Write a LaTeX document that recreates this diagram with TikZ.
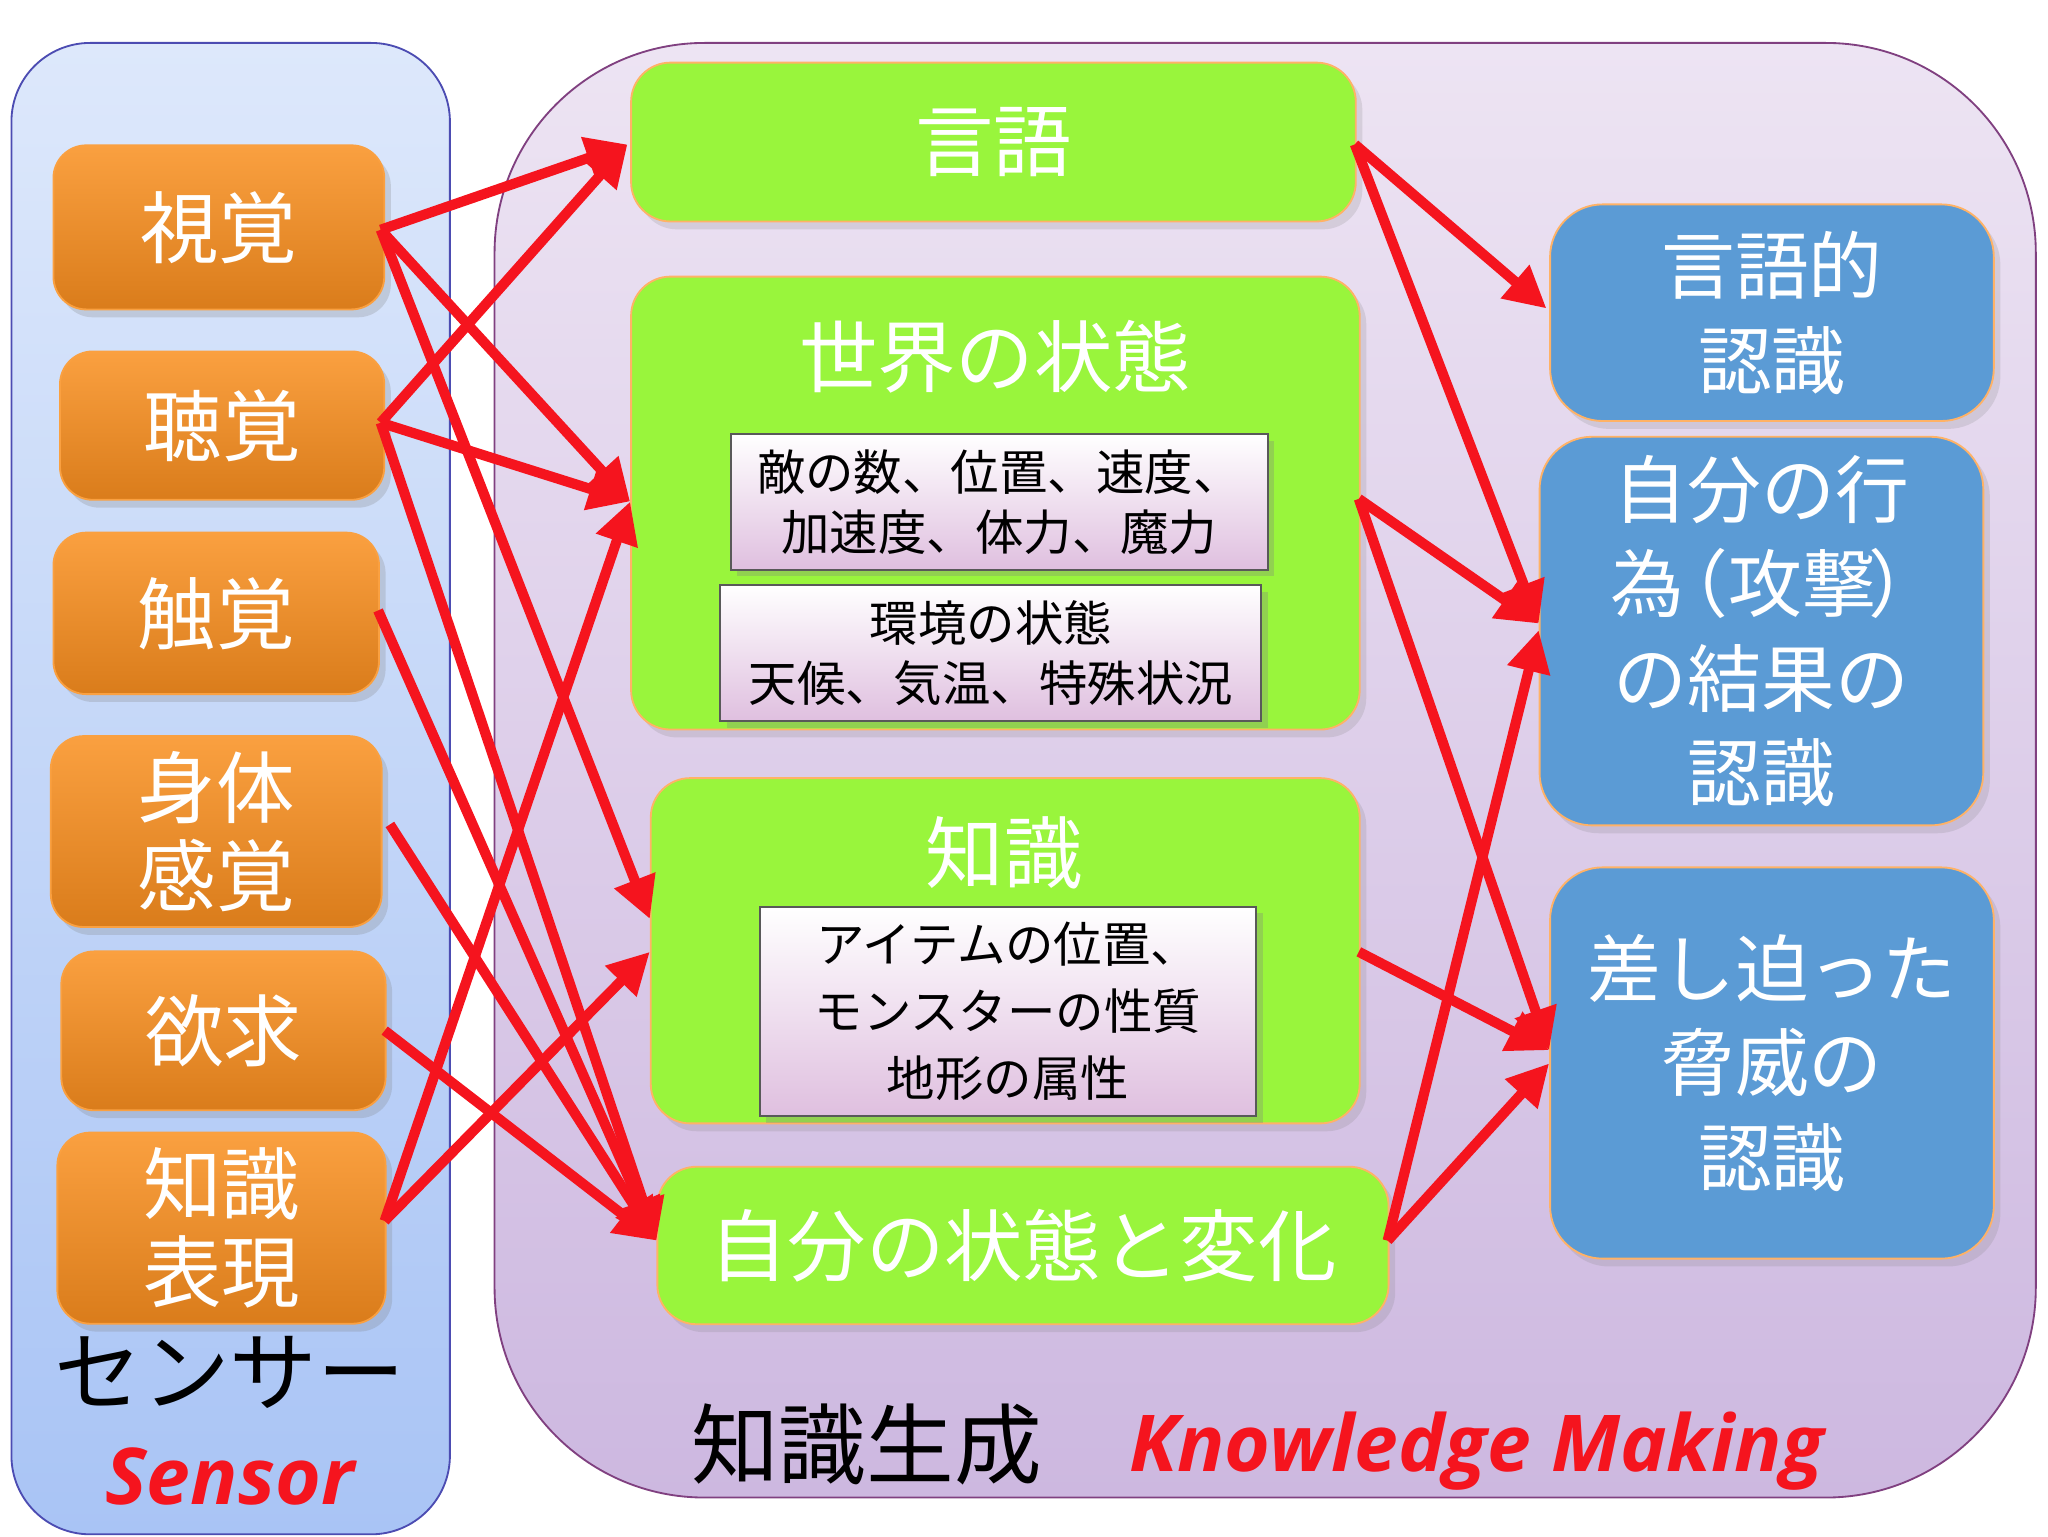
\documentclass[tikz,border=0pt]{standalone}
\usepackage{fontspec}
\setmainfont{Noto Sans CJK JP}
\newfontfamily\latinbold{Open Sans}
\usetikzlibrary{shadows,arrows.meta}
\definecolor{org}{HTML}{F28A1E}
\definecolor{orgt}{HTML}{FAA040}
\definecolor{grn}{HTML}{99F53C}
\definecolor{blu}{HTML}{5B9BD5}
\definecolor{arr}{HTML}{F5141E}
\definecolor{skyt}{HTML}{DDE8FB}
\definecolor{skyb}{HTML}{A9C4F5}
\definecolor{lavt}{HTML}{EDE4F3}
\definecolor{lavb}{HTML}{CDB8E0}
\tikzset{
 orbox/.style={draw=orgt,rounded corners=0.25cm,top color=orgt,bottom color=org!90!black,drop shadow={opacity=0.25,shadow xshift=0.05cm,shadow yshift=-0.06cm},text=white,font=\fontsize{17}{20}\selectfont,align=center,anchor=north west},
 gbox/.style={draw=orange!60,rounded corners=0.3cm,fill=grn,drop shadow={opacity=0.2,shadow xshift=0.05cm,shadow yshift=-0.06cm},anchor=north west},
 bbox/.style={draw=orange!60,rounded corners=0.4cm,fill=blu,drop shadow={opacity=0.2,shadow xshift=0.05cm,shadow yshift=-0.06cm},text=white,font=\fontsize{16}{20.5}\selectfont,align=center,anchor=north west},
 ibox/.style={draw=gray!70!black,top color=white,bottom color=violet!25,drop shadow={opacity=0.3,shadow xshift=0.05cm,shadow yshift=-0.05cm},font=\fontsize{10.5}{13}\selectfont,align=center,anchor=north west},
 ar/.style={draw=arr,line width=2.2pt,-{Triangle[length=9pt,width=9pt]}},
 gl/.style={text=white,font=\fontsize{17}{20}\selectfont}
}
\begin{document}
\begin{tikzpicture}[x=1cm,y=-1cm]
\useasboundingbox (0,0) rectangle (15.6,11.7);
% panels
\node[draw=blue!40!gray,rounded corners=0.6cm,top color=skyt,bottom color=skyb,minimum width=3.34cm,minimum height=11.36cm,anchor=north west] (sp) at (0.08,0.32) {};
\node[draw=violet!50!gray,rounded corners=1.6cm,top color=lavt,bottom color=lavb,minimum width=11.74cm,minimum height=11.08cm,anchor=north west] (kp) at (3.76,0.32) {};
% sensors
\node[orbox,minimum width=2.52cm,minimum height=1.25cm] (s1) at (0.40,1.10) {視覚};
\node[orbox,minimum width=2.47cm,minimum height=1.13cm] (s2) at (0.45,2.67) {聴覚};
\node[orbox,minimum width=2.48cm,minimum height=1.23cm] (s3) at (0.40,4.05) {触覚};
\node[orbox,minimum width=2.52cm,minimum height=1.43cm,font=\fontsize{17}{19}\selectfont] (s4) at (0.38,5.60) {身体\\感覚};
\node[orbox,minimum width=2.47cm,minimum height=1.21cm] (s5) at (0.46,7.24) {欲求};
\node[orbox,minimum width=2.50cm,minimum height=1.40cm,font=\fontsize{17}{19}\selectfont] (s6) at (0.43,8.62) {知識\\表現};
\node[font=\fontsize{19}{22}\selectfont] (sl) at (1.75,10.45) {センサー};
\node[font=\latinbold\bfseries\itshape\fontsize{17}{20}\selectfont,text=arr] (sl2) at (1.75,11.25) {Sensor};
% green
\node[gbox,minimum width=5.52cm,minimum height=1.21cm] (g1) at (4.80,0.47) {};
\node[gl] at (g1.center) {言語};
\node[gbox,minimum width=5.55cm,minimum height=3.45cm] (g2) at (4.80,2.10) {};
\node[gl] (g2t) at (7.58,2.72) {世界の状態};
\node[gbox,minimum width=5.40cm,minimum height=2.63cm] (g3) at (4.95,5.92) {};
\node[gl] (g3t) at (7.65,6.50) {知識};
\node[gbox,minimum width=5.57cm,minimum height=1.20cm] (g4) at (5.00,8.88) {};
\node[gl] at (g4.center) {自分の状態と変化};
\node[ibox,minimum width=4.09cm,minimum height=0.92cm] (i1) at (5.56,3.30) {敵の数、位置、速度、\\加速度、体力、魔力};
\node[ibox,minimum width=4.12cm,minimum height=0.93cm] (i2) at (5.48,4.45) {環境の状態\\天候、気温、特殊状況};
\node[ibox,minimum width=3.78cm,minimum height=1.48cm,font=\fontsize{10.5}{14.5}\selectfont] (i3) at (5.78,6.90) {アイテムの位置、\\モンスターの性質\\地形の属性};
% blue
\node[bbox,minimum width=3.38cm,minimum height=1.65cm] (b1) at (11.80,1.55) {言語的\\認識};
\node[bbox,minimum width=3.38cm,minimum height=2.96cm,font=\fontsize{16}{20.5}\selectfont] (b2) at (11.72,3.32) {自分の行\\為\kern-0.4em（攻撃\kern-0.1em）\kern-0.4em\\の結果の\\認識};
\node[bbox,minimum width=3.38cm,minimum height=2.98cm] (b3) at (11.80,6.60) {差し迫った\\脅威の\\認識};
% bottom
\node[font=\fontsize{19}{22}\selectfont] (kt) at (6.60,11.00) {知識生成};
\node[font=\latinbold\bfseries\itshape\fontsize{17}{20}\selectfont,text=arr] (kt2) at (11.25,11.05) {Knowledge Making};
% arrow ends
\coordinate (s1o) at (2.90,1.75);
\coordinate (s2o) at (2.90,3.22);
\coordinate (s3o) at (2.88,4.65);
\coordinate (s4o) at (2.97,6.28);
\coordinate (s5o) at (2.93,7.85);
\coordinate (s6o) at (2.93,9.30);
\coordinate (g1i) at (4.78,1.10);
\coordinate (g2i) at (4.80,3.82);
\coordinate (g3i) at (4.95,7.00);
\coordinate (g3j) at (4.95,7.25);
\coordinate (g4i) at (5.00,9.45);
\coordinate (g1o) at (10.32,1.10);
\coordinate (g2o) at (10.35,3.80);
\coordinate (g3o) at (10.35,7.25);
\coordinate (g4o) at (10.57,9.45);
\coordinate (b1i) at (11.78,2.35);
\coordinate (b2i) at (11.72,4.75);
\coordinate (b2j) at (11.72,4.80);
\coordinate (b3i) at (11.80,8.00);
\coordinate (b3j) at (11.80,8.10);
\draw[ar] (s1o) -- (g1i);
\draw[ar] (s1o) -- (g2i);
\draw[ar] (s1o) -- (g3i);
\draw[ar] (s2o) -- (g1i);
\draw[ar] (s2o) -- (g2i);
\draw[ar] (s2o) -- (g4i);
\draw[ar] (s3o) -- (g4i);
\draw[ar] (s4o) -- (g4i);
\draw[ar] (s5o) -- (g4i);
\draw[ar] (s6o) -- (g2i);
\draw[ar] (s6o) -- (g3j);
\draw[ar] (g1o) -- (b1i);
\draw[ar] (g1o) -- (b2i);
\draw[ar] (g2o) -- (b2i);
\draw[ar] (g2o) -- (b3i);
\draw[ar] (g3o) -- (b3i);
\draw[ar] (g4o) -- (b2j);
\draw[ar] (g4o) -- (b3j);
\end{tikzpicture}
\end{document}
